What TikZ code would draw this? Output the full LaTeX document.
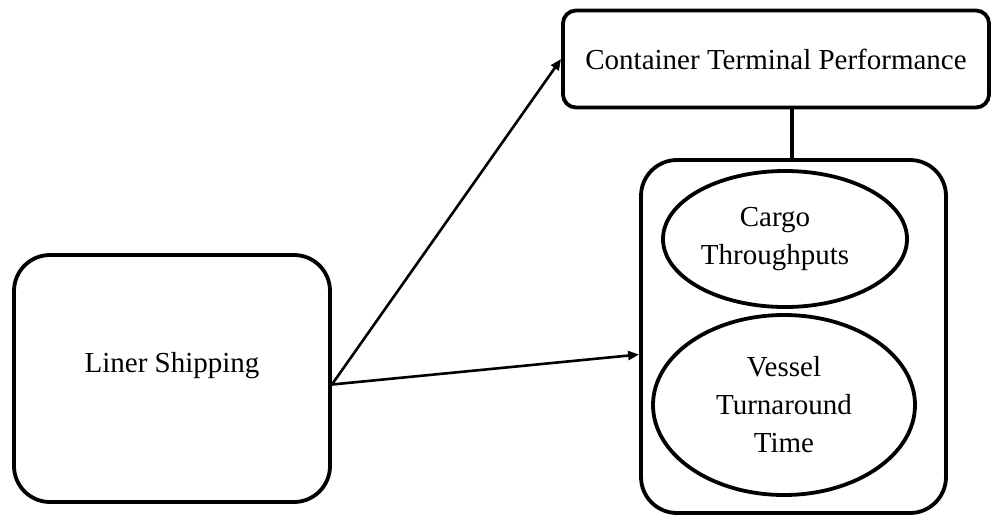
\documentclass[tikz,border=0pt]{standalone}
\usepackage{fontspec}
\setmainfont{Liberation Serif}
\usetikzlibrary{shapes.geometric,arrows.meta}
\tikzset{
  box/.style={draw, line width=3.8pt, rounded corners=#1, inner sep=0pt, align=center, font=\fontsize{29}{38}\selectfont},
  oval/.style={draw, ellipse, line width=3.8pt, inner sep=0pt, align=center, font=\fontsize{29}{38}\selectfont},
  conn/.style={line width=2.6pt, -{Triangle[length=11pt,width=9pt]}},
  link/.style={line width=3.2pt}
}
\begin{document}
\begin{tikzpicture}[x=1pt,y=-1pt]
\useasboundingbox (0,0) rectangle (995,517);
\node[box=36pt, minimum width=316pt, minimum height=247pt] (LS) at (172,378.5) {\raisebox{32pt}{Liner Shipping}};
\node[box=13pt, minimum width=426pt, minimum height=97pt] (CTP) at (776,59) {Container Terminal Performance};
\node[box=36pt, minimum width=305pt, minimum height=353pt] (BB) at (793.5,336.5) {};
\node[oval, minimum width=244pt, minimum height=136pt] (CT) at (785,239) {Cargo\hspace*{20pt}\\Throughputs\hspace*{20pt}};
\node[oval, minimum width=262pt, minimum height=180pt] (VT) at (784,405) {Vessel\\Turnaround\\Time};
\coordinate (S) at ([yshift=-6pt]LS.east);
\draw[conn] (S) -- (CTP.west);
\draw[conn] (S) -- ([yshift=-18pt]BB.west);
\draw[link] (CTP.south -| 792,0) -- (BB.north -| 792,0);
\end{tikzpicture}
\end{document}
